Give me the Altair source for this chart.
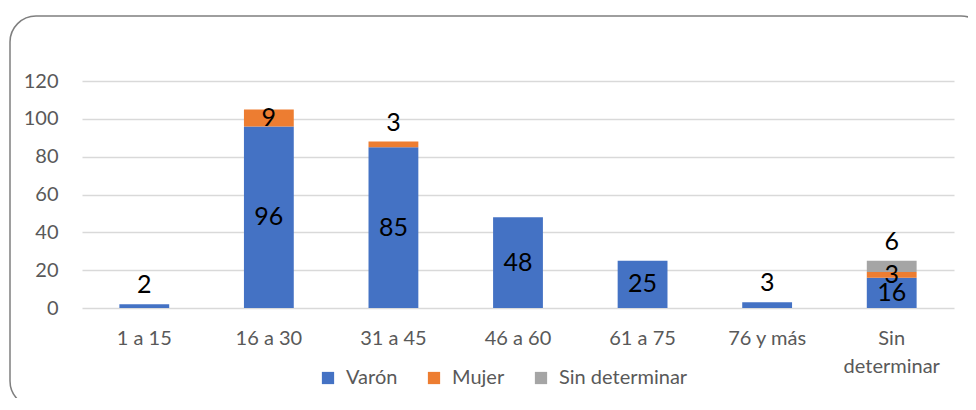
import altair as alt
import pandas as pd

categories = ["1 a 15", "16 a 30", "31 a 45", "46 a 60", "61 a 75", "76 y más", "Sin determinar"]
series = ["Varón", "Mujer", "Sin determinar"]
varon = [2, 96, 85, 48, 25, 3, 16]
mujer = [0, 9, 3, 0, 0, 0, 3]
sin_det = [0, 0, 0, 0, 0, 0, 6]
y_ticks = [0, 20, 40, 60, 80, 100, 120]
colors = ["#4472C4", "#ED7D31", "#A5A5A5"]

rows = []
for i, cat in enumerate(categories):
    base = 0
    segs = [(s, v) for s, v in zip(series, [varon[i], mujer[i], sin_det[i]]) if v > 0]
    for k, (s, v) in enumerate(segs):
        rows.append({
            "cat": cat, "serie": s, "value": v, "order": series.index(s),
            "start": base, "end": base + v, "mid": base + v / 2,
            "above": (k == len(segs) - 1) and v <= 6,
        })
        base += v
df = pd.DataFrame(rows)

FONT = "Lato"

x = alt.X("cat:N", sort=categories, title=None,
          scale=alt.Scale(paddingInner=0.6, paddingOuter=0.3),
          axis=alt.Axis(labelAngle=0, ticks=False, domain=False, labelFontSize=20,
                        labelColor="#595959", labelFont=FONT, labelPadding=20,
                        labelLineHeight=28,
                        labelExpr="datum.label == 'Sin determinar' ? ['Sin', 'determinar'] : datum.label"))

bars = alt.Chart(df).mark_bar().encode(
    x=x,
    y=alt.Y("start:Q", title=None, scale=alt.Scale(domain=[0, 120], nice=False),
            axis=alt.Axis(values=y_ticks, tickCount=7, ticks=False, domain=False,
                          labelOverlap=False,
                          labelFontSize=20, labelColor="#595959", labelFont=FONT,
                          labelPadding=24, gridColor="#D9D9D9", gridWidth=1.3)),
    y2="end:Q",
    color=alt.Color("serie:N", sort=series,
                    scale=alt.Scale(domain=series, range=colors),
                    legend=alt.Legend(title=None, orient="none", direction="horizontal",
                                      legendX=236, legendY=287, symbolType="square",
                                      symbolSize=150, symbolStrokeWidth=0,
                                      labelFontSize=20, labelColor="#595959", labelFont=FONT,
                                      labelOffset=8, columnPadding=26)),
    order=alt.Order("order:Q"),
)

center_labels = alt.Chart(df).transform_filter("!datum.above").mark_text(
    fontSize=25, font=FONT, color="black", baseline="middle"
).encode(x=alt.X("cat:N", sort=categories), y="mid:Q", text="value:Q")

above_labels = alt.Chart(df).transform_filter("datum.above").mark_text(
    fontSize=25, font=FONT, color="black", baseline="alphabetic", dy=-11
).encode(x=alt.X("cat:N", sort=categories), y="end:Q", text="value:Q")

border = alt.Chart(alt.Data(values=[{"a": 1}])).mark_rect(
    fillOpacity=0, stroke="#7F7F7F", strokeWidth=1.5, cornerRadius=26, clip=False
).encode(x=alt.value(-72), x2=alt.value(905), y=alt.value(-65), y2=alt.value(326))

chart = alt.layer(border, bars, center_labels, above_labels).properties(
    width=872, height=227,
    autosize=alt.AutoSizeParams(type="none"),
    padding={"left": 74, "top": 73, "right": 14, "bottom": 90},
).configure_view(stroke=None)

chart.save("out.html", embed_options={"renderer": "svg", "actions": False})
